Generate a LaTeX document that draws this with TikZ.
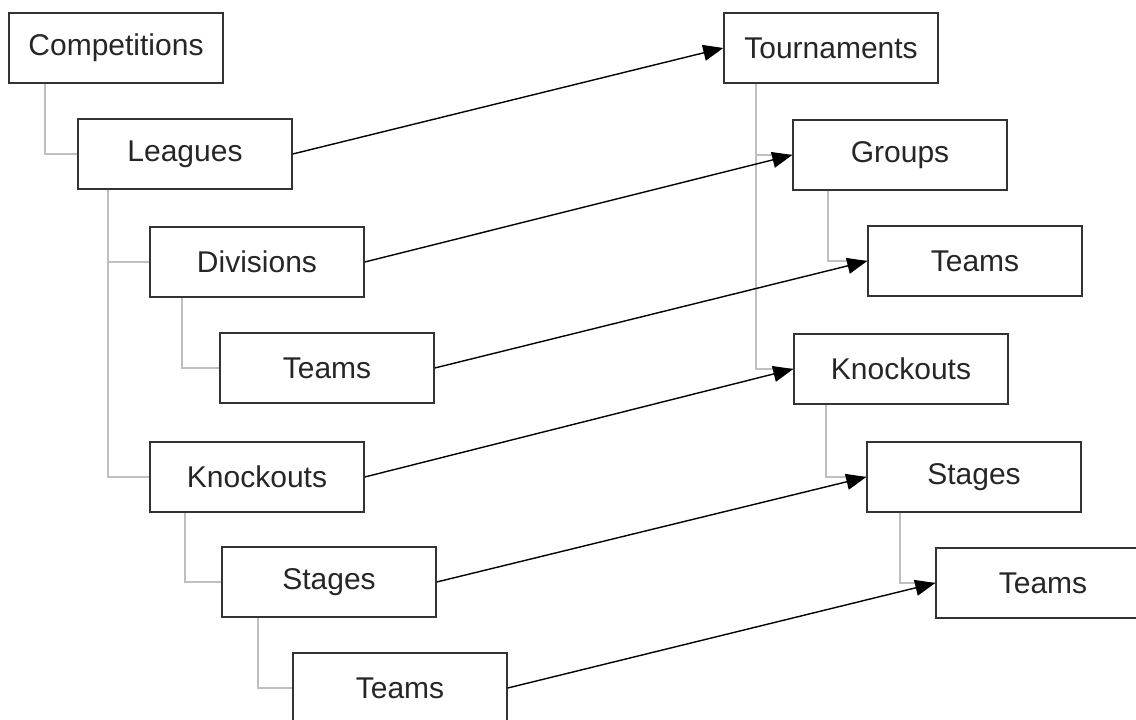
\documentclass[tikz,border=0pt]{standalone}
\usepackage{fontspec}
\setmainfont{Liberation Sans}
\usetikzlibrary{arrows.meta}
\usetikzlibrary{calc}

\begin{document}
\begin{tikzpicture}[x=1pt,y=-1pt,
    entity/.style={draw=black!80, line width=1.5pt, minimum width=214pt, minimum height=70pt, inner sep=0pt, text=black!85, font=\fontsize{30}{36}\selectfont},
    tree/.style={draw=black!25, line width=1.7pt},
    link/.style={draw=black, line width=1.4pt, -{Triangle[length=20pt,width=16pt]}}]
    \useasboundingbox (0,0) rectangle (1136,720);
    \clip (0,0) rectangle (1136,720);

    \node[entity] (comp) at (116,48) {Competitions};
    \node[entity] (leagues) at (185,154) {Leagues};
    \node[entity] (div) at (257,262) {Divisions};
    \node[entity] (divteams) at (327,368) {Teams};
    \node[entity] (knock) at (257,477) {Knockouts};
    \node[entity] (stages) at (329,582) {Stages};
    \node[entity] (stageteams) at (400,688) {Teams};

    \node[entity] (tourn) at (831,48) {Tournaments};
    \node[entity] (groups) at (900,155) {Groups};
    \node[entity] (groupteams) at (975,261) {Teams};
    \node[entity] (tknock) at (901,369) {Knockouts};
    \node[entity] (tstages) at (974,477) {Stages};
    \node[entity] (tstageteams) at (1043,583) {Teams};

    \draw[tree] ($(comp.south west)+(37,0)$) |- (leagues.west);
    \draw[tree] ($(leagues.south west)+(31,0)$) |- (div.west);
    \draw[tree] ($(leagues.south west)+(31,0)$) |- (knock.west);
    \draw[tree] ($(div.south west)+(33,0)$) |- (divteams.west);
    \draw[tree] ($(knock.south west)+(36,0)$) |- (stages.west);
    \draw[tree] ($(stages.south west)+(37,0)$) |- (stageteams.west);

    \draw[tree] ($(tourn.south west)+(33,0)$) |- (groups.west);
    \draw[tree] ($(tourn.south west)+(33,0)$) |- (tknock.west);
    \draw[tree] ($(groups.south west)+(36,0)$) |- (groupteams.west);
    \draw[tree] ($(tknock.south west)+(33,0)$) |- (tstages.west);
    \draw[tree] ($(tstages.south west)+(34,0)$) |- (tstageteams.west);

    \draw[link] (leagues.east) -- (tourn.west);
    \draw[link] (div.east) -- (groups.west);
    \draw[link] (divteams.east) -- (groupteams.west);
    \draw[link] (knock.east) -- (tknock.west);
    \draw[link] (stages.east) -- (tstages.west);
    \draw[link] (stageteams.east) -- (tstageteams.west);
\end{tikzpicture}
\end{document}
